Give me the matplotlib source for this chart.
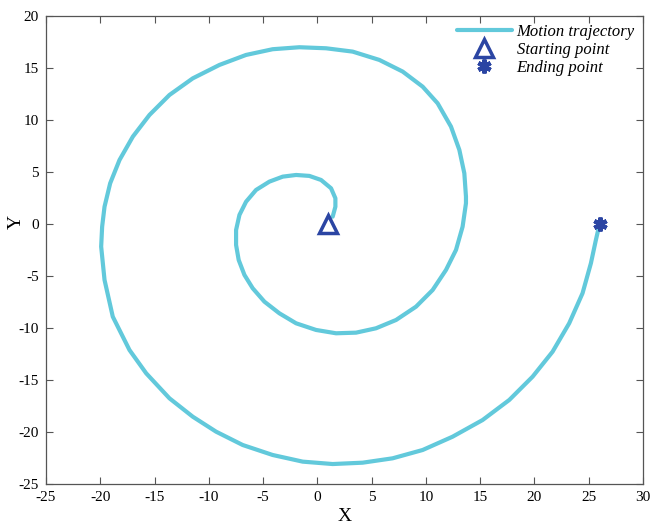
import matplotlib.pyplot as plt

# trajectory points (inner -> outer)
traj_x = [1.41, 1.66, 1.66, 1.26, 0.34, -0.74, -1.96, -3.19, -4.42, -5.65, -6.57, -7.18,
          -7.49, -7.49, -7.25, -6.72, -5.96, -4.88, -3.5, -1.96, -0.12, 1.72, 3.56, 5.4,
          7.25, 9.09, 10.62, 11.85, 12.77, 13.38, 13.69, 13.69, 13.54, 13.08, 12.31,
          11.08, 9.7, 7.86, 5.71, 3.25, 0.8, -1.66, -4.12, -6.57, -9.02, -11.48, -13.63,
          -15.47, -17.0, -18.23, -19.09, -19.61, -19.83, -19.92, -19.61, -18.85, -17.31,
          -15.77, -13.63, -11.48, -9.33, -6.88, -4.12, -1.35, 1.41, 4.17, 6.93, 9.7,
          12.46, 15.22, 17.68, 19.83, 21.67, 23.2, 24.43, 25.2, 25.66, 26.0]
traj_y = [0.70, 1.66, 2.47, 3.43, 4.23, 4.62, 4.71, 4.55, 4.07, 3.27, 2.14, 0.87,
          -0.58, -2.02, -3.46, -4.9, -6.18, -7.47, -8.59, -9.55, -10.19, -10.51, -10.45, -10.03,
          -9.23, -7.95, -6.35, -4.42, -2.5, -0.26, 1.99, 2.63, 4.87, 7.12, 9.36,
          11.6, 13.2, 14.65, 15.77, 16.57, 16.89, 16.99, 16.8, 16.25, 15.29, 14.0, 12.4,
          10.48, 8.4, 6.15, 3.91, 1.66, -0.26, -2.18, -5.38, -8.91, -12.12,
          -14.36, -16.76, -18.53, -19.97, -21.25, -22.21, -22.85, -23.08, -22.95, -22.53, -21.73,
          -20.45, -18.85, -16.92, -14.68, -12.28, -9.55, -6.66, -3.78, -1.54, 0.0]
start_pt = (1.0, 0.0)
end_pt = (26.0, 0.0)

plt.rcParams['font.family'] = ['Liberation Serif', 'DejaVu Serif']
plt.rcParams['axes.unicode_minus'] = False

fig = plt.figure(figsize=(6.51, 5.31), dpi=100)
ax = fig.add_axes([0.0707, 0.0885, 0.917, 0.8815])

ax.plot(traj_x, traj_y, color='#62C9DB', lw=3.0, label='Motion trajectory',
        solid_joinstyle='round', solid_capstyle='round', zorder=2)
ax.plot(*start_pt, linestyle='none', marker='^', ms=13, mfc='white', mec='#2B45A3',
        mew=2.5, label='Starting point', zorder=3)
ax.plot(*end_pt, linestyle='none', marker=(6, 2, 0), ms=10, mec='#2B45A3',
        mew=3, label='Ending point', zorder=3)

ax.set_xlim(-25, 30)
ax.set_ylim(-25, 20)
ax.set_xticks(range(-25, 31, 5))
ax.set_yticks(range(-25, 21, 5))
ax.tick_params(direction='in', top=True, right=True, labelsize=11, length=5,
               color='#555555', pad=5)
for s in ax.spines.values():
    s.set_color('#555555')
    s.set_linewidth(0.9)

ax.set_xlabel('X', fontsize=14, labelpad=3)
ax.set_ylabel('Y', fontsize=14)
ax.yaxis.set_label_coords(-0.036, 0.56)

leg = ax.legend(loc='upper right', frameon=False, prop={'style': 'italic', 'size': 12},
                handlelength=3.3, borderaxespad=0.1, labelspacing=0.12, handletextpad=0.3)

fig.savefig('out.png', dpi=100)
